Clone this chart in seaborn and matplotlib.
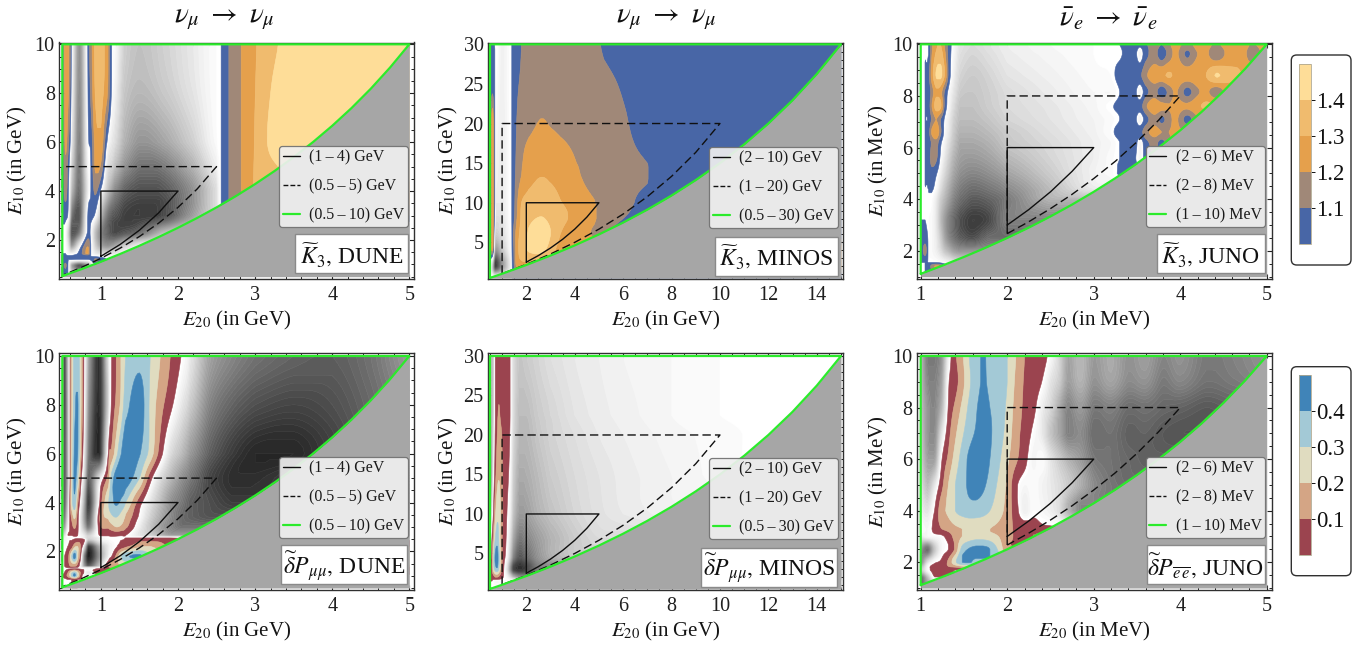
import matplotlib
matplotlib.use("Agg")
import matplotlib.pyplot as plt
from matplotlib.lines import Line2D
from matplotlib.patches import FancyBboxPatch, Rectangle
from matplotlib.colors import ListedColormap, BoundaryNorm
from matplotlib.cm import ScalarMappable
from matplotlib.ticker import MultipleLocator
import numpy as np
import seaborn as sns

# ---------- window boundary curves ----------
dune_outer_x = [.5, .75, 1, 1.25, 1.5, 1.75, 2, 2.25, 2.5, 2.75, 3, 3.25, 3.5, 3.75, 4, 4.25, 4.5, 4.75, 5]
dune_outer_y = [.526, .81, 1.111, 1.429, 1.765, 2.121, 2.5, 2.903, 3.333, 3.793, 4.286, 4.815, 5.385, 6, 6.667, 7.391, 8.182, 9.048, 10]
dune_mid_x = [.5, .75, 1, 1.25, 1.5, 1.75, 2, 2.25, 2.5]
dune_mid_y = [.556, .882, 1.25, 1.667, 2.143, 2.692, 3.333, 4.09, 5]
dune_in_x = [1, 1.25, 1.5, 1.75, 2]
dune_in_y = [1.333, 1.818, 2.4, 3.111, 4]
minos_outer_x = [.5, 1, 2, 3, 4, 5, 6, 7, 8, 9, 10, 11, 12, 13, 14, 15]
minos_outer_y = [.508, 1.034, 2.143, 3.333, 4.615, 6, 7.5, 9.13, 10.91, 12.86, 15, 17.37, 20, 22.94, 26.25, 30]
minos_mid_x = [1, 2, 3, 4, 5, 6, 7, 8, 9, 10]
minos_mid_y = [1.053, 2.222, 3.529, 5, 6.667, 8.571, 10.77, 13.33, 16.36, 20]
minos_in_x = [2, 2.5, 3, 3.5, 4, 4.5, 5]
minos_in_y = [2.5, 3.333, 4.286, 5.385, 6.667, 8.182, 10]
juno_outer_x = [1, 1.25, 1.5, 1.75, 2, 2.25, 2.5, 2.75, 3, 3.25, 3.5, 3.75, 4, 4.25, 4.5, 4.75, 5]
juno_outer_y = [1.111, 1.429, 1.765, 2.121, 2.5, 2.903, 3.333, 3.793, 4.286, 4.815, 5.385, 6, 6.667, 7.391, 8.182, 9.048, 10]
juno_mid_x = [2, 2.25, 2.5, 2.75, 3, 3.25, 3.5, 3.75, 4]
juno_mid_y = [2.667, 3.13, 3.636, 4.19, 4.8, 5.47, 6.222, 7.06, 8]
juno_in_x = [2, 2.25, 2.5, 2.75, 3]
juno_in_y = [3, 3.6, 4.286, 5.08, 6]

# ---------- colour scale and legend/label text ----------
k3_ticks = [1.1, 1.2, 1.3, 1.4]
dp_ticks = [0.1, 0.2, 0.3, 0.4]
titles = [r'$\nu_\mu\ \rightarrow\ \nu_\mu$', r'$\nu_\mu\ \rightarrow\ \nu_\mu$', r'$\bar{\nu}_e\ \rightarrow\ \bar{\nu}_e$']
dune_labels = ['(1\u2009\u2013\u20094) GeV', '(0.5\u2009\u2013\u20095) GeV', '(0.5\u2009\u2013\u200910) GeV']
minos_labels = ['(2\u2009\u2013\u200910) GeV', '(1\u2009\u2013\u200920) GeV', '(0.5\u2009\u2013\u200930) GeV']
juno_labels = ['(2\u2009\u2013\u20096) MeV', '(2\u2009\u2013\u20098) MeV', '(1\u2009\u2013\u200910) MeV']

# ---------- fields: 100 = white / start of the colour scale,
# below it grey (0 = black), above it 100 + 100*(value - base). Rows run from high to low E10,
# rows stop where the forbidden region begins. ----------
a_x = [.5, .54, .58, .62, .72, .83, .87, .93, 1.0, 1.08, 1.14, 1.18, 1.3, 1.5, 1.8, 2.2, 2.5, 2.56, 2.66, 2.82, 3.02, 3.3, 3.5, 5]
a_y = [10, 8, 6, 5, 4, 3, 2.3, 1.8, 1.45, 1.34, 1.2, .95, .5]
a_z = [
 [100,128,122,98,55,100,115,133,133,125,100,97,80,74,80,90,98,100,110,120,130,140,146,150],
 [100,125,120,95,52,98,112,131,133,122,99,93,76,70,76,88,98,100,110,120,131,144,148,150],
 [100,122,112,88,48,95,103,125,128,100,90,85,68,56,62,80,97,100,110,120,132,147,150,150],
 [100,118,104,80,45,92,100,122,118,88,80,72,55,42,45,68,92,100,110,120,132,140,150],
 [100,115,100,70,40,88,100,112,98,75,60,50,35,28,30,55,85,100,110,120,132],
 [100,103,95,45,30,100,103,97,70,45,33,30,22,20,25,60,85,100,110],
 [100,97,75,30,45,102,96,72,50,35,28,25,30,40,70,85],
 [100,98,85,55,88,118,100,78,60,52,55,60,75,90],
 [100,100,95,92,103,122,100,90,85,82,85,88,95],
 [100,101,101,101,101,101,100,98,96,95,95,95],
 [100,105,100,100,98,99,102,112,106,100],
 [100,112,96,62,30,55,80,100],
 [100],
]

b_x = [.5, .6, .7, .75, 1.0, 1.4, 1.44, 1.6, 1.8, 2.1, 2.6, 3.0, 3.4, 4, 4.8, 5.2, 6, 7, 7.2, 15]
b_y = [30, 25, 20, 15, 13, 10, 8, 6, 4, 2, .5]
b_z = [
 [100,100,100,100,93,100,102,105,110,115,117,118,118,116,112,109,106,104,104,103],
 [100,105,100,98,93,100,103,108,112,116,118,119,119,117,114,112,109,105,104,103],
 [100,128,100,96,92,100,103,110,116,118,120.5,119.5,118,116,114,113,111,106,105,103],
 [100,128,100,94,91,100,103,112,119,124,127,127,125,120.5,115,114,112,110,108,103],
 [100,128,100,93,91,100,103,114,121,127,130.5,129,126,122.5,116,115,112,110.3,108,104],
 [100,128,100,90,90,100,103,117,130,134,137,136,130.5,127,120.5,117,112,108,106,104],
 [100,128,96,85,88,100,105,119,132,138,140.5,138,132,128,121,117,110,107,105],
 [100,128,85,78,85,99,108,124,134,141,146,140,130,125,119,114,105],
 [100,122,65,55,75,98,105,125,135,141,143,135,126],
 [100,70,25,22,55,95,103,122,125],
 [100],
]

c_x = [1, 1.05, 1.09, 1.13, 1.18, 1.23, 1.28, 1.33, 1.38, 1.45, 1.6, 1.8, 2, 2.5, 3,
       3.2, 3.3, 3.4, 3.47, 3.535, 3.6, 3.7, 3.785, 3.87, 3.95, 4.08, 4.2, 4.3, 4.42, 4.55, 4.7, 4.83, 5]
c_y = [10, 9.6, 8.8, 8.16, 7.6, 7.1, 6.6, 6.2, 5.6, 5, 4.4, 4, 3.2, 2.5, 2, 1.55, 1.4, 1.1]
c_z = [
 [100,100,100,118,128,130,118,104,96,88,84,88,92,96,98, 99,100,103,106,102,108,116,110,118,124,116,124,124,118,126,128,119,126],
 [100,100,100,120,132,135,122,104,95,86,82,86,91,95,98, 99,99,103,104,95,106,114,104,114,122,108,120,122,112,123,127,114,125],
 [100,100,106,125,141,143,128,104,92,82,78,82,88,93,97, 98,103,108,110,108,118,126,128,131,128,126,128,130,141,134,130],
 [100,100,103,115,128,124,108,96,88,78,76,80,85,91,96, 96,100,108,104,94,106,114,103,113,121,106,118,122,113,124],
 [100,100,104,120,135,132,106,94,84,74,74,79,84,89,95, 99,102,104,108,105,118,128,124,121,124,122,128,132],
 [100,100,101,112,120,110,98,90,80,72,72,76,82,88,94, 97,100,108,104,94,105,116,107,116,122,106,118],
 [100,100,105,122,130,112,96,88,77,68,68,72,78,86,93, 98,103,102,108,106,116,124,120,120,122,120],
 [100,100,102,112,115,102,93,84,74,64,64,68,76,84,92, 96,100,108,106,95,106,114,106,116,120],
 [100,100,103,116,112,98,88,78,68,60,58,62,70,82,92, 97,100,106,102,95,104,110,108],
 [100,100,101,105,101,92,82,72,62,54,50,54,62,78,93, 97,101,103],
 [100,100,100,101,96,85,74,64,54,46,40,44,52,72,90],
 [100,100,100,98,90,78,68,58,48,40,32,36,46,68],
 [100,100,98,96,88,72,58,46,38,28,20,26,48],
 [100,104,99,96,90,78,62,50,42,34,28,40],
 [100,115,98,96,92,85,75,68,60,55],
 [100,100,100,100,100,98,95,92,88,85],
 [100,100,103,115,122,118,104,100],
 [100],
]

d_x = [.5, .53, .57, .6, .62, .66, .7, .74, .78, .84, .98, 1.1, 1.14, 1.2, 1.26, 1.32, 1.5, 1.64, 1.77, 1.9, 2.04, 2.15, 2.4, 2.7, 3.0, 3.5, 4, 4.5, 5]
d_y = [10, 8, 6, 5, 4, 3.4, 3, 2.65, 2.55, 2.45, 2.2, 1.8, 1.4, 1.3, 1.15, 1.0, .85, .5]
d_z = [
 [55,25,65,100,118,135,136,122,100,60,15,85,100,110,120,130,137,130,120,110,100,90,62,50,42,36,34,42,58],
 [55,25,62,100,118,137,141,122,98,52,14,80,102,112,122,136,146,128,114,103,90,78,50,36,28,24,28,38,50],
 [55,30,62,100,120,142,140,115,90,42,12,102,112,126,139,148,141,126,105,85,72,58,35,20,12,12,22,35,50],
 [55,32,62,100,122,143,130,104,82,35,85,114,134,146,150,147,130,104,85,70,55,45,25,15,15,22,30],
 [55,35,70,104,125,137,112,92,65,20,98,129,137,142,138,130,105,88,72,55,45,35,28,20],
 [60,45,80,102,112,122,104,85,60,30,108,122,128,130,126,118,98,80,65,52,40,35,30],
 [70,60,90,101,106,112,102,88,70,45,105,112,116,120,118,112,92,75,60,50,42],
 [85,85,100,100,100,102,100,95,90,80,100,101,102,102,101,100,88,80,70,60],
 [90,92,97,97,98,99,99,97,92,82,92,98,99,99,99,100,100,100,100,100,98],
 [92,94,98,100,100,104,106,108,104,70,90,96,98,99,100,102,108,108,108,105,100],
 [95,98,100,103,105,118,120,108,85,20,65,90,95,99,104,108,118,120,115,110],
 [100,100,104,118,130,145,122,100,50,8,55,92,100,112,128,138,142,130],
 [98,100,106,110,112,112,106,90,60,35,75,110,118],
 [97,98,99,99,99,99,99,98,96,96,100,104],
 [95,100,108,118,125,132,120,108,100,90,110],
 [100,105,112,122,132,142,125,105,96,95],
 [98,98,100,100,100,104,100],
 [100],
]

e_x = [.5, .58, .65, .72, .8, .87, .95, 1.05, 1.2, 1.33, 1.45, 1.7, 2, 2.5, 3, 4, 5, 6, 8, 10, 12, 15]
e_y = [30, 22.5, 20, 15, 10, 7, 4.5, 3, 2, 1.5, .5]
e_z = [
 [75,72,78,100,105,105,105,105,105,100,85,76,78,82,86,90,92,94,96,98,99,100],
 [75,70,80,100,108,111,108,105,105,100,85,72,72,78,82,88,91,93,96,98,99,100],
 [72,68,85,102,110,114,112,106,105,99,84,70,70,76,81,86,90,92,95,97,99,100],
 [70,65,92,106,116,119,115,108,103,96,80,65,66,72,78,84,88,91,94,97,99,100],
 [70,85,103,118,127,126,118,108,100,92,75,58,60,68,74,82,87,90,93],
 [85,100,115,130,135,128,115,106,98,85,65,45,50,60,68,78,84],
 [95,105,128,142,145,132,118,104,95,75,50,30,38,55,66,76],
 [100,108,125,135,138,128,115,102,85,55,25,15,22,45],
 [100,102,106,110,110,108,104,100,95,85,70,55,55],
 [100,100,98,96,96,96,97,98,98],
 [100],
]

f_x = [1, 1.08, 1.16, 1.24, 1.32, 1.4, 1.48, 1.56, 1.64, 1.72, 1.8, 1.9, 2, 2.1, 2.2, 2.3, 2.4, 2.5, 2.6, 2.7, 2.85, 3, 3.2, 3.4, 3.6, 3.8, 4, 4.3, 4.6, 5]
f_y = [10, 9, 8, 7, 6, 5, 4, 3.3, 3, 2.5, 2, 1.7, 1.4, 1.1]
f_z = [
 [70,45,45,55,92,108,118,130,136,141,137,134,130,120,110,107,105,96,82,62,70,58,65,55,60,50,55,45,48,55],
 [70,50,48,60,98,106,116,128,136,141,138,135,130,118,109,106,100,88,78,60,68,55,62,52,55,45,50,42,45,50],
 [72,55,50,68,101,112,122,132,139,143,140,136,128,116,108,103,92,82,65,50,58,45,48,40,42,38,36,32,35],
 [75,55,52,85,106,118,128,136,141,143,141,135,126,114,106,98,90,75,62,48,52,40,42,35,36,32,30],
 [78,60,60,98,112,124,134,142,146,146,140,132,122,112,103,95,98,88,78,68,58,45,42,38,35],
 [85,72,88,106,120,130,136,142,144,142,136,128,118,102,96,98,94,90,85,78,66,52,44,40],
 [92,88,100,116,122,130,134,136,136,134,130,124,116,104,92,98,96,92,85,68,50],
 [98,96,103,110,114,118,120,122,122,122,120,118,114,108,106,103,101],
 [90,96,96,98,104,114,120,124,126,126,124,120,114,108,103,100],
 [55,40,75,95,100,112,134,141,143,143,140,128,112],
 [50,85,98,102,112,128,140,142,135],
 [75,96,104,108,106,100],
 [35,70,98],
 [35,60],
]

# ---------- theme ----------
sns.set_theme(style="ticks", rc={
    "axes.linewidth": 1.0, "axes.edgecolor": "#303030",
    "xtick.direction": "in", "ytick.direction": "in",
    "xtick.top": True, "ytick.right": True,
    "xtick.major.size": 3.5, "ytick.major.size": 3.5, "xtick.minor.size": 2, "ytick.minor.size": 2,
    "xtick.major.width": .8, "ytick.major.width": .8, "xtick.minor.width": .7, "ytick.minor.width": .7,
    "mathtext.fontset": "stix",
})
plt.rcParams["font.family"] = ["Liberation Serif", "DejaVu Serif"]

W, H = 1361, 646
fx = lambda px: px / W
fy = lambda py: 1 - py / H
fig = plt.figure(figsize=(W / 100, H / 100), dpi=100, facecolor="white")

grey_levels = list(np.arange(0, 100.1, 2))
band_levels = [110, 120, 130, 140, 200]
levels = grey_levels + band_levels
greys = sns.blend_palette(["#0c0c0c", "#ffffff"], len(grey_levels) - 1)
k3_bands = ["#4866A6", "#A08878", "#E5A04C", "#F0BB6E", "#FEDD98"]
dp_bands = ["#9B444F", "#D4A585", "#E0DCC0", "#A3C9D6", "#4084B8"]
GREEN = "#2BEB2B"
FORBID = "#A6A6A6"


def full(rows, n):
    return np.array([r + [r[-1]] * (n - len(r)) for r in rows], float)


def smooth_axis(a, k, axis):
    """Display-only rounding of the read table between its cells; cell values stay as read."""
    a = np.moveaxis(a, axis, 0)
    n = a.shape[0]
    t = np.linspace(0, n - 1, (n - 1) * k + 1)
    i = np.minimum(t.astype(int), n - 2)
    u = (t - i)[:, None]
    p0, p1, p2, p3 = a[np.maximum(i - 1, 0)], a[i], a[i + 1], a[np.minimum(i + 2, n - 1)]
    v = .5 * (2 * p1 + (p2 - p0) * u + (2 * p0 - 5 * p1 + 4 * p2 - p3) * u ** 2 + (3 * p1 - p0 - 3 * p2 + p3) * u ** 3)
    v = np.clip(v, np.minimum(p1, p2), np.maximum(p1, p2))
    return np.moveaxis(v, 0, axis)


def fine_coords(c, k):
    n = len(c)
    return np.interp(np.linspace(0, n - 1, (n - 1) * k + 1), np.arange(n), c)


def panel(frame, data_px, win, field, bands, curves, labels, tag, tagbox, legbox,
          xlabel, ylabel, ylab_px, xmaj, xmin_, ymaj, ymin_):
    L, R, T, B = frame
    xp0, xp1, yp1, yp0 = data_px
    x0, x1, y0, y1 = win
    ax = fig.add_axes([fx(L), fy(B), (R - L) / W, (B - T) / H])
    sx = (xp1 - xp0) / (x1 - x0)
    sy = (yp0 - yp1) / (y1 - y0)
    ax.set_xlim(x0 - (xp0 - L) / sx, x1 + (R - xp1) / sx)
    ax.set_ylim(y0 - (B - yp0) / sy, y1 + (yp1 - T) / sy)

    fxs, fys, fzs = field
    Z = full(fzs, len(fxs))[::-1]
    k = 8
    Zf = smooth_axis(smooth_axis(Z, k, 0), k, 1)
    cs = ax.contourf(fine_coords(fxs, k), fine_coords(fys[::-1], k), Zf, levels=levels,
                     colors=list(greys) + bands, zorder=1)
    cs.set_antialiased(True)
    cs.set_edgecolor("face")
    cs.set_linewidth(.4)

    (ox, oy), (mx, my), (ix, iy) = curves
    ax.fill_between(ox, y0, oy, color=FORBID, lw=0, zorder=2)

    def draw(cx, cy, color, ls, lw):
        px_ = [cx[0]] + [cx[0]] + list(cx[::-1])
        py_ = [cy[0]] + [cy[-1]] + list(cy[::-1])
        sns.lineplot(x=px_, y=py_, ax=ax, color=color, sort=False, estimator=None,
                     linestyle=ls, linewidth=lw, zorder=4, legend=False)

    draw(ix, iy, "#101010", "-", 1.0)
    draw(mx, my, "#101010", (0, (6, 3)), 1.0)
    draw(ox, oy, GREEN, "-", 1.6)

    ax.xaxis.set_major_locator(MultipleLocator(xmaj))
    ax.xaxis.set_minor_locator(MultipleLocator(xmin_))
    ax.yaxis.set_major_locator(MultipleLocator(ymaj))
    ax.yaxis.set_minor_locator(MultipleLocator(ymin_))
    ax.tick_params(which="both", top=True, right=True, direction="in", colors="#202020")
    ax.tick_params(axis="x", which="major", labelsize=14.5, pad=5)
    ax.tick_params(axis="y", which="major", labelsize=14.5, pad=3)

    ax.set_xlabel(xlabel, fontsize=15, va="center", color="#151515")
    ax.xaxis.set_label_coords(.5, (B - (T + 278)) / (B - T))
    ax.set_ylabel(ylabel, fontsize=15, va="center", color="#151515")
    ax.yaxis.set_label_coords((ylab_px - L) / (R - L), .5)

    handles = [Line2D([], [], color="#101010", lw=1.0),
               Line2D([], [], color="#101010", lw=1.0, ls=(0, (3.5, 1.5))),
               Line2D([], [], color=GREEN, lw=1.6)]
    leg = ax.legend(handles, labels, loc="upper left", bbox_to_anchor=(fx(legbox[0]), fy(legbox[1])),
                    bbox_transform=fig.transFigure, borderaxespad=0, borderpad=.22, labelspacing=.82,
                    handlelength=1.05, handletextpad=.62, fontsize=11.5, fancybox=True, framealpha=.92,
                    facecolor="#EFEFEF", edgecolor="#707070")
    leg.set_zorder(6)
    leg.get_frame().set_linewidth(.9)
    for t in leg.get_texts():
        t.set_color("#1a1a1a")

    bl, bt, br, bb = tagbox
    fig.add_artist(Rectangle((fx(bl), fy(bb)), (br - bl) / W, (bb - bt) / H, transform=fig.transFigure,
                             facecolor="white", edgecolor="#8a8a8a", lw=1.0, zorder=7))
    fig.text(fx((bl + br) / 2), fy((bt + bb) / 2 + 1), tag, ha="center", va="center", fontsize=17,
             color="#111111", zorder=8)
    return ax


def cbar(box, bar, bands, ticks, lo, hi):
    bl, bt, br, bb = box
    fig.add_artist(FancyBboxPatch((fx(bl), fy(bb)), (br - bl) / W, (bb - bt) / H, transform=fig.transFigure,
                                  boxstyle="round,pad=0,rounding_size=0.004", mutation_aspect=W / H,
                                  facecolor="white", edgecolor="#303030", lw=1.0, zorder=1))
    l, t, r, b = bar
    cax = fig.add_axes([fx(l), fy(b), (r - l) / W, (b - t) / H], zorder=3)
    edges = list(np.linspace(lo, hi, len(bands) + 1))
    sm = ScalarMappable(norm=BoundaryNorm(edges, len(bands)), cmap=ListedColormap(bands))
    cb = fig.colorbar(sm, cax=cax, ticks=ticks, spacing="proportional")
    cb.ax.set_yticklabels([f"{v:.1f}" for v in ticks])
    cb.ax.tick_params(labelsize=16.5, length=3, width=.7, pad=1, direction="out", right=True, left=False, colors="#111111")
    cb.outline.set_edgecolor("#b0a890")
    cb.outline.set_linewidth(.6)
    cb.ax.minorticks_off()


col_frames = [(59, 414, 62.3, 409.3), (487.7, 843.3, 490, 841), (916.7, 1271.7, 920.7, 1266.7)]
rows_px = [(42.5, 279, 44.3), (353.3, 590, 356)]
low_px = [[276.7, 278, 276.7], [588, 589, 588]]
wins = [(.5, 5, .5, 10), (.5, 15, .5, 30), (1, 5, 1, 10)]
curve_sets = [((dune_outer_x, dune_outer_y), (dune_mid_x, dune_mid_y), (dune_in_x, dune_in_y)),
              ((minos_outer_x, minos_outer_y), (minos_mid_x, minos_mid_y), (minos_in_x, minos_in_y)),
              ((juno_outer_x, juno_outer_y), (juno_mid_x, juno_mid_y), (juno_in_x, juno_in_y))]
label_sets = [dune_labels, minos_labels, juno_labels]
fields = [[(a_x, a_y, a_z), (b_x, b_y, b_z), (c_x, c_y, c_z)], [(d_x, d_y, d_z), (e_x, e_y, e_z), (f_x, f_y, f_z)]]
tags = [[r'$\widetilde{K}_3,\,$DUNE', r'$\widetilde{K}_3,\,$MINOS', r'$\widetilde{K}_3,\,$JUNO'],
        [r'$\widetilde{\delta}P_{\mu\mu},\,$DUNE', r'$\widetilde{\delta}P_{\mu\mu},\,$MINOS',
         r'$\widetilde{\delta}P_{\overline{e}\,\overline{e}},\,$JUNO']]
tagboxes = [[(295.3, 234.3, 408, 273.3), (715.3, 237.3, 837.7, 275.7), (1157.3, 234.3, 1264.7, 273.3)],
            [(281, 545, 407.3, 584.3), (701, 548.3, 837.3, 586.7), (1146.7, 545, 1264.7, 584.3)]]
legtops = [[(279.3, 145.7), (709.3, 146.7), (1145.7, 146)], [(279.3, 456.7), (709.3, 457.7), (1145.7, 457)]]
units = ["GeV", "GeV", "MeV"]
ylab_x = [17, 448, 878]
ticks_cfg = [(1, .2, 2, .5), (2, .5, 5, 1), (1, .2, 2, .5)]
title_x = [224.7, 666.7, 1108.7]

for r in range(2):
    for c in range(3):
        L, R, xp0, xp1 = col_frames[c]
        T, B, yp1 = rows_px[r]
        panel((L, R, T, B), (xp0, xp1, yp1, low_px[r][c]), wins[c], fields[r][c],
              k3_bands if r == 0 else dp_bands, curve_sets[c], label_sets[c], tags[r][c], tagboxes[r][c],
              legtops[r][c], rf'$E_{{20}}$ (in {units[c]})', rf'$E_{{10}}$ (in {units[c]})', ylab_x[c], *ticks_cfg[c])

for x, t in zip(title_x, titles):
    fig.text(fx(x), fy(19), t, ha="center", va="center", fontsize=21, color="#111111")

cbar((1291.3, 55, 1351, 265), (1299.3, 64.3, 1310.7, 243.7), k3_bands, k3_ticks, 1.0, 1.5)
cbar((1291.3, 366.7, 1351, 575.7), (1299.3, 375.3, 1310.7, 554.7), dp_bands, dp_ticks, 0.0, 0.5)

fig.savefig("out.png", dpi=100, facecolor="white")
